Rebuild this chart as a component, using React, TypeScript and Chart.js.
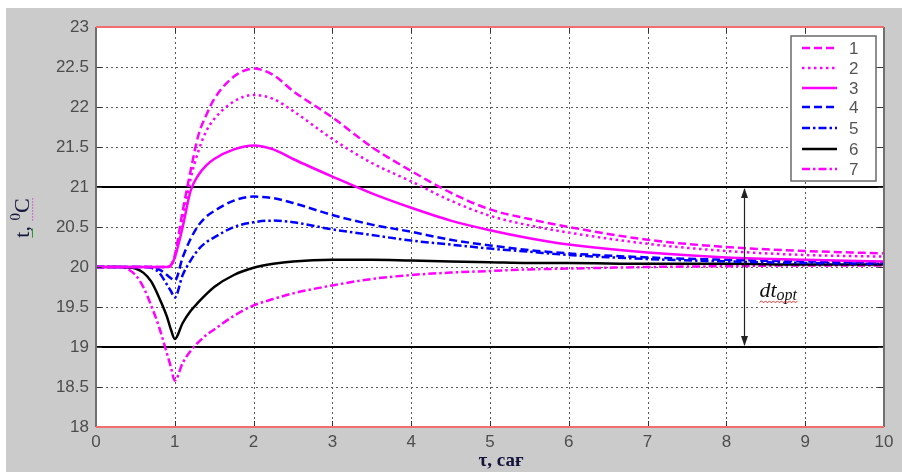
import React, { useEffect, useRef } from "react";
import { Chart, registerables } from "chart.js";

Chart.register(...registerables);

const tau = [0, 0.3, 0.5, 0.6, 0.7, 0.8, 0.9, 0.95, 1, 1.1, 1.2, 1.3, 1.4, 1.5, 1.75, 2, 2.25, 2.5, 3, 3.5, 4, 4.5, 5, 5.5, 6, 7, 8, 9, 10];

const curve1 = [20, 20, 20, 20, 20, 20, 20, 20.02, 20.15, 20.7, 21.2, 21.65, 21.9, 22.1, 22.38, 22.48, 22.4, 22.2, 21.87, 21.5, 21.2, 20.93, 20.72, 20.6, 20.5, 20.34, 20.25, 20.2, 20.17];
const curve2 = [20, 20, 20, 20, 20, 20, 20, 20.02, 20.12, 20.6, 21.1, 21.45, 21.7, 21.85, 22.07, 22.15, 22.1, 21.95, 21.6, 21.3, 21.07, 20.83, 20.64, 20.52, 20.43, 20.29, 20.2, 20.15, 20.13];
const curve3 = [20, 20, 20, 20, 20, 20, 20, 20.02, 20.12, 20.5, 20.95, 21.15, 21.27, 21.35, 21.47, 21.52, 21.47, 21.35, 21.13, 20.92, 20.74, 20.58, 20.46, 20.36, 20.28, 20.18, 20.12, 20.09, 20.07];
const curve4 = [20, 20, 20, 20, 20, 19.97, 19.9, 19.86, 19.83, 20.12, 20.35, 20.52, 20.63, 20.7, 20.83, 20.88, 20.86, 20.8, 20.65, 20.53, 20.44, 20.34, 20.27, 20.21, 20.17, 20.12, 20.09, 20.07, 20.06];
const curve5 = [20, 20, 20, 20, 19.99, 19.93, 19.78, 19.7, 19.62, 19.9, 20.08, 20.22, 20.31, 20.37, 20.5, 20.56, 20.58, 20.56, 20.47, 20.4, 20.33, 20.28, 20.23, 20.19, 20.15, 20.1, 20.07, 20.05, 20.04];
const curve6 = [20, 20, 19.98, 19.93, 19.82, 19.62, 19.38, 19.22, 19.1, 19.3, 19.45, 19.56, 19.66, 19.75, 19.9, 19.99, 20.04, 20.07, 20.09, 20.09, 20.08, 20.07, 20.06, 20.05, 20.05, 20.04, 20.04, 20.03, 20.03];
const curve7 = [20, 20, 19.9, 19.75, 19.52, 19.25, 18.92, 18.75, 18.58, 18.8, 18.95, 19.06, 19.15, 19.22, 19.39, 19.52, 19.6, 19.67, 19.77, 19.85, 19.9, 19.93, 19.95, 19.97, 19.98, 20.0, 20.01, 20.02, 20.02];

const seriesLabels = ["1", "2", "3", "4", "5", "6", "7"];
const limitLines = [21, 19];
const xRange = [0, 10];
const yRange = [18, 23];
const arrowX = 8.22;
const dtLabelPos = [8.42, 19.62];

const styles = [
  { color: "#ff00ff", dash: [8, 4], width: 2.5 },
  { color: "#ff00ff", dash: [2.5, 3.5], width: 2.5 },
  { color: "#ff00ff", dash: [], width: 2.5 },
  { color: "#0000ff", dash: [8, 4], width: 2.5 },
  { color: "#0000ff", dash: [8, 3, 2.5, 3], width: 2.5 },
  { color: "#000000", dash: [], width: 2.5 },
  { color: "#ff00ff", dash: [8, 3, 2.5, 3], width: 2.5 },
];

const allCurves = [curve1, curve2, curve3, curve4, curve5, curve6, curve7];

const decorPlugin = {
  id: "decor",
  beforeDraw(chart: any) {
    const { ctx, chartArea: a } = chart;
    ctx.save();
    ctx.fillStyle = "#ffffff";
    ctx.fillRect(0, 0, chart.width, chart.height);
    ctx.fillStyle = "#cbcbcb";
    ctx.fillRect(6, 8, chart.width - 6, chart.height - 8);
    ctx.fillStyle = "#ffffff";
    ctx.fillRect(a.left, a.top, a.right - a.left, a.bottom - a.top);
    const xs = chart.scales.x;
    const ys = chart.scales.y;
    ctx.strokeStyle = "#5a5a5a";
    ctx.lineWidth = 1;
    ctx.setLineDash([2, 3]);
    for (let v = 1; v < 10; v++) {
      const px = Math.round(xs.getPixelForValue(v)) + 0.5;
      ctx.beginPath();
      ctx.moveTo(px, a.top);
      ctx.lineTo(px, a.bottom);
      ctx.stroke();
    }
    for (let v = 18.5; v < 23; v += 0.5) {
      const py = Math.round(ys.getPixelForValue(v)) + 0.5;
      ctx.beginPath();
      ctx.moveTo(a.left, py);
      ctx.lineTo(a.right, py);
      ctx.stroke();
    }
    ctx.setLineDash([]);
    ctx.restore();
  },
  afterDatasetsDraw(chart: any) {
    const { ctx, chartArea: a } = chart;
    const xs = chart.scales.x;
    const ys = chart.scales.y;
    ctx.save();
    ctx.strokeStyle = "#333";
    ctx.lineWidth = 1;
    for (let v = 1; v < 10; v++) {
      const px = Math.round(xs.getPixelForValue(v)) + 0.5;
      ctx.beginPath();
      ctx.moveTo(px, a.top);
      ctx.lineTo(px, a.top + 6);
      ctx.moveTo(px, a.bottom);
      ctx.lineTo(px, a.bottom - 6);
      ctx.stroke();
    }
    for (let v = 18.5; v < 23; v += 0.5) {
      const py = Math.round(ys.getPixelForValue(v)) + 0.5;
      ctx.beginPath();
      ctx.moveTo(a.left, py);
      ctx.lineTo(a.left + 6, py);
      ctx.moveTo(a.right, py);
      ctx.lineTo(a.right - 6, py);
      ctx.stroke();
    }
    ctx.lineWidth = 2;
    ctx.strokeStyle = "#707070";
    ctx.beginPath();
    ctx.moveTo(a.left, a.top);
    ctx.lineTo(a.left, a.bottom);
    ctx.moveTo(a.right, a.top);
    ctx.lineTo(a.right, a.bottom);
    ctx.stroke();
    ctx.strokeStyle = "#f26d6d";
    ctx.beginPath();
    ctx.moveTo(a.left, a.top);
    ctx.lineTo(a.right, a.top);
    ctx.moveTo(a.left, a.bottom);
    ctx.lineTo(a.right, a.bottom);
    ctx.stroke();

    // arrow
    const ax = Math.round(xs.getPixelForValue(arrowX)) + 0.5;
    const yTop = ys.getPixelForValue(limitLines[0]);
    const yBot = ys.getPixelForValue(limitLines[1]);
    ctx.strokeStyle = "#222";
    ctx.fillStyle = "#222";
    ctx.lineWidth = 1.2;
    ctx.beginPath();
    ctx.moveTo(ax, yTop + 2);
    ctx.lineTo(ax, yBot - 2);
    ctx.stroke();
    ctx.beginPath();
    ctx.moveTo(ax, yTop + 1);
    ctx.lineTo(ax - 3.5, yTop + 11);
    ctx.lineTo(ax + 3.5, yTop + 11);
    ctx.closePath();
    ctx.fill();
    ctx.beginPath();
    ctx.moveTo(ax, yBot - 1);
    ctx.lineTo(ax - 3.5, yBot - 11);
    ctx.lineTo(ax + 3.5, yBot - 11);
    ctx.closePath();
    ctx.fill();

    // dt_opt label
    const lx = xs.getPixelForValue(dtLabelPos[0]);
    const ly = ys.getPixelForValue(dtLabelPos[1]);
    ctx.fillStyle = "#111";
    ctx.textBaseline = "alphabetic";
    ctx.textAlign = "left";
    ctx.font = "italic 22px 'Liberation Serif', serif";
    ctx.fillText("dt", lx, ly);
    const w = ctx.measureText("dt").width;
    ctx.font = "italic 16px 'Liberation Serif', serif";
    ctx.fillText("opt", lx + w, ly + 3);
    const w2 = ctx.measureText("opt").width;
    ctx.strokeStyle = "#e03030";
    ctx.lineWidth = 1;
    ctx.beginPath();
    let up = true;
    ctx.moveTo(lx, ly + 5);
    for (let x = lx; x <= lx + w + w2; x += 2) {
      ctx.lineTo(x + 2, ly + (up ? 3.5 : 5.5));
      up = !up;
    }
    ctx.stroke();

    // legend
    const bx = 791, by = 36, bw = 85, bh = 145;
    ctx.fillStyle = "#ffffff";
    ctx.fillRect(bx, by, bw, bh);
    ctx.strokeStyle = "#6a6a6a";
    ctx.lineWidth = 1.5;
    ctx.strokeRect(bx, by, bw, bh);
    const rows = [48, 68, 88, 107, 128, 149, 169];
    ctx.font = "17px 'Liberation Sans', Arial, sans-serif";
    ctx.textBaseline = "middle";
    styles.forEach((s, i) => {
      ctx.strokeStyle = s.color;
      ctx.lineWidth = s.width;
      ctx.setLineDash(s.dash);
      ctx.beginPath();
      ctx.moveTo(802, rows[i]);
      ctx.lineTo(837, rows[i]);
      ctx.stroke();
      ctx.setLineDash([]);
      ctx.fillStyle = "#555";
      ctx.fillText(seriesLabels[i], 849, rows[i] + 1);
    });

    // axis titles
    ctx.fillStyle = "#14143a";
    ctx.textAlign = "center";
    ctx.textBaseline = "middle";
    ctx.font = "bold 19px 'Liberation Serif', serif";
    ctx.fillText("τ, сағ", 501, 461);

    ctx.translate(22, 218);
    ctx.rotate(-Math.PI / 2);
    ctx.textAlign = "left";
    ctx.textBaseline = "alphabetic";
    ctx.font = "22px 'Liberation Serif', serif";
    const t1 = "t, ";
    const tw = ctx.measureText(t1).width;
    ctx.font = "15px 'Liberation Serif', serif";
    const zw = ctx.measureText("0").width;
    ctx.font = "22px 'Liberation Serif', serif";
    const cw = ctx.measureText("C").width;
    const total = tw + zw + cw;
    const sx = -total / 2;
    ctx.fillText(t1, sx, 7);
    ctx.font = "15px 'Liberation Serif', serif";
    ctx.fillText("0", sx + tw, -2);
    ctx.font = "22px 'Liberation Serif', serif";
    ctx.fillText("C", sx + tw + zw, 7);
    ctx.fillStyle = "#2a9a2a";
    ctx.fillRect(sx, 10, tw - 8, 1);
    ctx.fillStyle = "#d040d0";
    for (let x = sx + tw; x < sx + total; x += 3) ctx.fillRect(x, 10, 1.2, 1.2);
    ctx.restore();
  },
};

export default function App() {
  const ref = useRef<HTMLCanvasElement | null>(null);
  useEffect(() => {
    if (!ref.current) return;
    const datasets: any[] = allCurves.map((c, i) => ({
      label: seriesLabels[i],
      data: tau.map((t, j) => ({ x: t, y: c[j] })),
      borderColor: styles[i].color,
      borderDash: styles[i].dash,
      borderWidth: styles[i].width,
      pointRadius: 0,
      fill: false,
      cubicInterpolationMode: "monotone",
    }));
    limitLines.forEach((v) => {
      datasets.push({
        label: "limit",
        data: [
          { x: xRange[0], y: v },
          { x: xRange[1], y: v },
        ],
        borderColor: "#000",
        borderWidth: 2,
        pointRadius: 0,
        fill: false,
      });
    });
    const chart = new Chart(ref.current, {
      type: "line",
      data: { datasets },
      plugins: [decorPlugin],
      options: {
        animation: false,
        responsive: false,
        maintainAspectRatio: false,
        layout: { padding: { left: 0, top: 27, right: 18, bottom: 0 } },
        plugins: { legend: { display: false }, tooltip: { enabled: false } },
        scales: {
          x: {
            type: "linear",
            min: xRange[0],
            max: xRange[1],
            grid: { display: false, drawTicks: false },
            border: { display: false },
            ticks: {
              stepSize: 1,
              padding: 5,
              color: "#4d4d4d",
              font: { size: 17, family: "'Liberation Sans', Arial, sans-serif" },
              maxRotation: 0,
              callback: (v: any) => String(v),
            },
            afterFit: (s: any) => {
              s.height = 45;
            },
          },
          y: {
            type: "linear",
            min: yRange[0],
            max: yRange[1],
            grid: { display: false, drawTicks: false },
            border: { display: false },
            ticks: {
              stepSize: 0.5,
              padding: 7,
              color: "#4d4d4d",
              font: { size: 17, family: "'Liberation Sans', Arial, sans-serif" },
              callback: (v: any) => String(Math.round(Number(v) * 10) / 10),
            },
            afterFit: (s: any) => {
              s.width = 96;
            },
          },
        },
      },
    });
    return () => chart.destroy();
  }, []);
  return (
    <div style={{ position: "absolute", left: 0, top: 0, width: 902, height: 472 }}>
      <canvas ref={ref} width={902} height={472} style={{ width: 902, height: 472 }} />
    </div>
  );
}
